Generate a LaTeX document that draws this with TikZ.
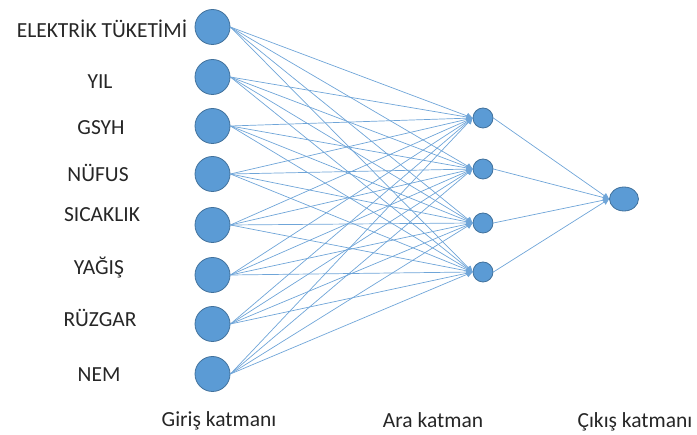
\documentclass[tikz,border=0pt]{standalone}
\usepackage{fontspec}
\setmainfont{Carlito}
\usetikzlibrary{arrows.meta,shapes.geometric}
\definecolor{nodefill}{HTML}{5B9BD5}
\definecolor{nodeline}{HTML}{41719C}
\definecolor{edgecol}{HTML}{6FA5D8}
\begin{document}
\begin{tikzpicture}[x=1pt,y=-1pt,
  inneur/.style={circle,fill=nodefill,draw=nodeline,line width=0.8pt,minimum size=35pt,inner sep=0pt},
  hidneur/.style={circle,fill=nodefill,draw=nodeline,line width=0.8pt,minimum size=20pt,inner sep=0pt},
  outneur/.style={ellipse,fill=nodefill,draw=nodeline,line width=0.8pt,minimum width=29pt,minimum height=24pt,inner sep=0pt},
  lbl/.style={font=\fontsize{21.5}{24}\selectfont,text=black!85,anchor=base,inner sep=0pt},
  conn/.style={draw=edgecol,line width=0.7pt,-{Triangle[length=6pt,width=6pt]}}]
\useasboundingbox (0,0) rectangle (697,435);
% input neurons
\node[inneur] (i1) at (212.5,27) {};
\node[inneur] (i2) at (212.5,77) {};
\node[inneur] (i3) at (212.5,126) {};
\node[inneur] (i4) at (212.5,174) {};
\node[inneur] (i5) at (212.5,225) {};
\node[inneur] (i6) at (212.5,275) {};
\node[inneur] (i7) at (212.5,324) {};
\node[inneur] (i8) at (212.5,374) {};
% hidden neurons
\node[hidneur] (h1) at (483,118) {};
\node[hidneur] (h2) at (483,169) {};
\node[hidneur] (h3) at (483,223) {};
\node[hidneur] (h4) at (483,272) {};
% output
\node[outneur] (o) at (624,199) {};
% labels
\node[lbl] (l1) at (102,38) {ELEKTRİK TÜKETİMİ};
\node[lbl] (l2) at (100,89) {YIL};
\node[lbl] (l3) at (101,135) {GSYH};
\node[lbl] (l4) at (98,182) {NÜFUS};
\node[lbl] (l5) at (102,222) {SICAKLIK};
\node[lbl] (l6) at (99,275) {YAĞIŞ};
\node[lbl] (l7) at (100,327) {RÜZGAR};
\node[lbl] (l8) at (99,382) {NEM};
\node[lbl] (b1) at (219,427) {Giriş katmanı};
\node[lbl] (b2) at (433,428) {Ara katman};
\node[lbl] (b3) at (635,428) {Çıkış katmanı};
% connections
\foreach \i in {1,...,8}{
  \foreach \h in {1,...,4}{
    \draw[conn] (i\i.east) -- (h\h.west);
  }
}
\foreach \h in {1,...,4}{
  \draw[conn] (h\h.east) -- (o.west);
}
\end{tikzpicture}
\end{document}
